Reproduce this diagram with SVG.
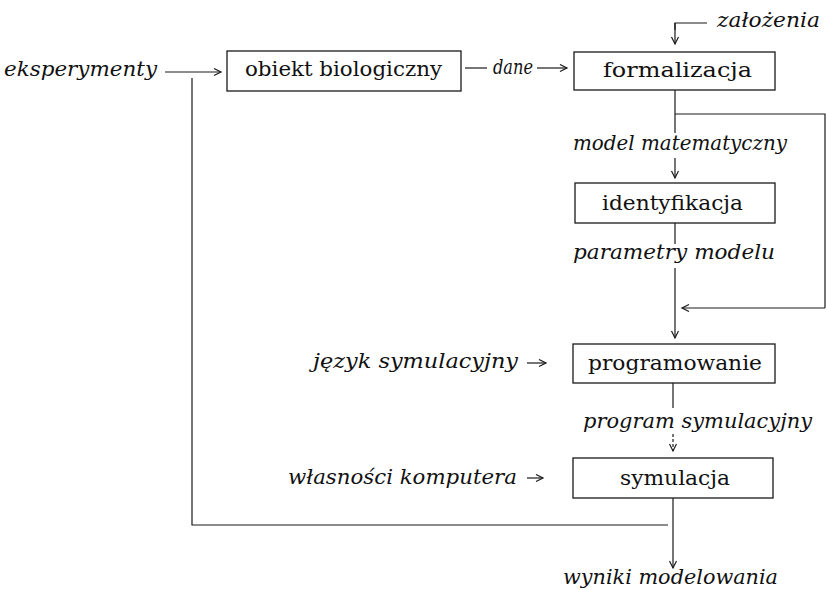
<svg xmlns="http://www.w3.org/2000/svg" width="826" height="590" viewBox="0 0 826 590">
<style>
.bg{fill:#ffffff}
.box{fill:none;stroke:#1a1a1a;stroke-width:1.3}
.ln{fill:none;stroke:#1a1a1a;stroke-width:1.2}
.ar{fill:none;stroke:#1a1a1a;stroke-width:1.2;marker-end:url(#ah)}
.dash{stroke-dasharray:3 2}
.r{font-family:"DejaVu Serif","Liberation Serif",serif;font-size:21px;fill:#111}
.i{font-family:"DejaVu Serif","Liberation Serif",serif;font-style:italic;font-size:21px;fill:#111}
</style>
<defs>
<marker id="ah" markerUnits="userSpaceOnUse" markerWidth="12" markerHeight="10" refX="8" refY="4" orient="auto">
<path d="M1,0.5 L8,4 L1,7.5" fill="none" stroke="#1a1a1a" stroke-width="1.2"/>
</marker>
</defs>
<rect class="bg" x="0" y="0" width="826" height="590"/>

<g id="connectors">
<line class="ar" x1="165" y1="72" x2="221" y2="72"/>
<line class="ln" x1="465" y1="68" x2="487" y2="68"/>
<line class="ar" x1="537" y1="68" x2="567" y2="68"/>
<polyline class="ln" points="707,23 675,23 675,30"/>
<line class="ar" x1="675" y1="23" x2="675" y2="44"/>
<line class="ln" x1="675" y1="90" x2="675" y2="133"/>
<polyline class="ln" points="675,114 825,114 825,308"/>
<line class="ar" x1="675" y1="158" x2="675" y2="178"/>
<line class="ln" x1="675" y1="223" x2="675" y2="244"/>
<line class="ar" x1="675" y1="268" x2="675" y2="338"/>
<line class="ar" x1="825" y1="308" x2="682" y2="308"/>
<line class="ar" x1="527" y1="363" x2="546" y2="363"/>
<line class="ln" x1="673" y1="383" x2="673" y2="408"/>
<line class="ar dash" x1="673" y1="434" x2="673" y2="451"/>
<line class="ar" x1="527" y1="478" x2="543" y2="478"/>
<line class="ar" x1="673" y1="498" x2="673" y2="568"/>
<polyline class="ln" points="192,78 192,525 668,525"/>
</g>

<g id="eksperymenty">
<text class="i" x="4" y="76" textLength="153" lengthAdjust="spacingAndGlyphs">eksperymenty</text>
</g>

<g id="obiekt">
<rect class="box" x="227" y="51" width="234" height="40"/>
<text class="r" x="245" y="76" textLength="197" lengthAdjust="spacingAndGlyphs">obiekt biologiczny</text>
</g>

<g id="dane">
<text class="i" x="493" y="74" textLength="40" lengthAdjust="spacingAndGlyphs">dane</text>
</g>

<g id="zalozenia">
<text class="i" x="717" y="27" textLength="103" lengthAdjust="spacingAndGlyphs">założenia</text>
</g>

<g id="formalizacja">
<rect class="box" x="574" y="52" width="201" height="38"/>
<text class="r" x="603" y="77" textLength="149" lengthAdjust="spacingAndGlyphs">formalizacja</text>
</g>

<g id="model-matematyczny">
<text class="i" x="573" y="150" textLength="214" lengthAdjust="spacingAndGlyphs">model matematyczny</text>
</g>

<g id="identyfikacja">
<rect class="box" x="575" y="183" width="200" height="40"/>
<text class="r" x="602" y="210" textLength="141" lengthAdjust="spacingAndGlyphs">identyfikacja</text>
</g>

<g id="parametry-modelu">
<text class="i" x="573" y="259" textLength="202" lengthAdjust="spacingAndGlyphs">parametry modelu</text>
</g>

<g id="jezyk">
<text class="i" x="313" y="368" textLength="205" lengthAdjust="spacingAndGlyphs">język symulacyjny</text>
</g>

<g id="programowanie">
<rect class="box" x="573" y="344" width="202" height="39"/>
<text class="r" x="588" y="370" textLength="174" lengthAdjust="spacingAndGlyphs">programowanie</text>
</g>

<g id="program-symulacyjny">
<text class="i" x="583" y="428" textLength="229" lengthAdjust="spacingAndGlyphs">program symulacyjny</text>
</g>

<g id="wlasnosci">
<text class="i" x="288" y="484" textLength="229" lengthAdjust="spacingAndGlyphs">własności komputera</text>
</g>

<g id="symulacja">
<rect class="box" x="573" y="458" width="200" height="40"/>
<text class="r" x="620" y="485" textLength="110" lengthAdjust="spacingAndGlyphs">symulacja</text>
</g>

<g id="wyniki">
<text class="i" x="563" y="584" textLength="215" lengthAdjust="spacingAndGlyphs">wyniki modelowania</text>
</g>
</svg>
